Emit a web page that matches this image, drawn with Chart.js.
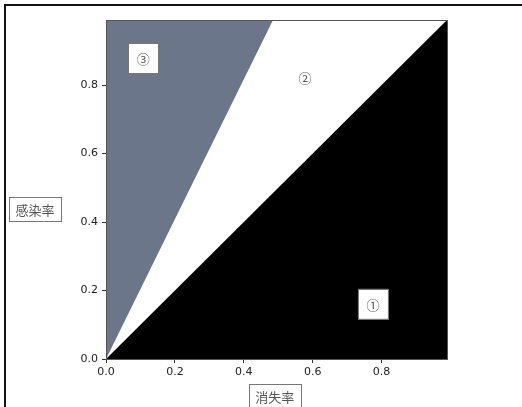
<!DOCTYPE html>
<html>
<head>
<meta charset="utf-8">
<script src="https://cdn.jsdelivr.net/npm/chart.js@4"></script>
<style>
  body { margin: 0; background: #fff; }
  #frame { position: absolute; left: 4px; top: 4px; width: 600px; height: 500px;
           border-top: 2px solid #111; border-left: 2px solid #111; }
  #myChart { position: absolute; left: 0; top: 0; }
</style>
</head>
<body>
<div id="frame"></div>
<canvas id="myChart" width="522" height="407"></canvas>
<script>
// axis ticks
const xTicks = [0, 0.2, 0.4, 0.6, 0.8];
const yTicks = [0, 0.2, 0.4, 0.6, 0.8];
const axisMax = 0.99;

// boundary lines of the regions
const diagX = [0, 0.99];
const diagY = [0, 0.99];
const steepX = [0, 0.485];
const steepY = [0, 0.99];

// region labels
const regionLabels = ['①', '②', '③'];
const regionX = [0.775, 0.578, 0.108];
const regionY = [0.161, 0.823, 0.879];
const regionBoxed = [true, false, true];

const xTitle = '消失率';
const yTitle = '感染率';

const toPoints = (xs, ys) => xs.map((x, i) => ({ x: x, y: ys[i] }));

// box with text, used for titles and region labels
const boxText = (ctx, text, cx, cy, w, h, boxed) => {
  if (boxed) {
    ctx.fillStyle = '#fff';
    ctx.fillRect(cx - w / 2, cy - h / 2, w, h);
    ctx.strokeStyle = '#777';
    ctx.lineWidth = 1;
    ctx.strokeRect(Math.round(cx - w / 2) + 0.5, Math.round(cy - h / 2) + 0.5, w, h);
  }
  ctx.fillStyle = '#555';
  ctx.textAlign = 'center';
  ctx.textBaseline = 'middle';
  ctx.fillText(text, cx, cy + 1);
};

const labelsPlugin = {
  id: 'labels',
  afterDraw(chart) {
    const ctx = chart.ctx;
    const area = chart.chartArea;
    const xs = chart.scales.x, ys = chart.scales.y;
    ctx.save();
    // plot frame
    ctx.strokeStyle = '#555';
    ctx.lineWidth = 1;
    ctx.strokeRect(area.left + 0.5, area.top + 0.5, area.right - area.left, area.bottom - area.top);

    ctx.font = '13px "Noto Sans CJK JP", sans-serif';
    regionLabels.forEach((t, i) => {
      boxText(ctx, t, xs.getPixelForValue(regionX[i]), ys.getPixelForValue(regionY[i]), 30, 30, regionBoxed[i]);
    });

    boxText(ctx, xTitle, xs.getPixelForValue(0.49), area.bottom + 37, 52, 24, true);
    boxText(ctx, yTitle, 35, ys.getPixelForValue(0.437), 52, 24, true);
    ctx.restore();
  }
};

const ctx = document.getElementById('myChart').getContext('2d');

new Chart(ctx, {
  type: 'scatter',
  data: {
    datasets: [
      {
        data: toPoints(diagX, diagY),
        showLine: true,
        fill: 'start',
        backgroundColor: '#000',
        borderColor: '#000',
        borderWidth: 0,
        pointRadius: 0,
      },
      {
        data: toPoints(steepX, steepY),
        showLine: true,
        fill: 'end',
        backgroundColor: '#6c768a',
        borderColor: '#6c768a',
        borderWidth: 0,
        pointRadius: 0,
      },
    ],
  },
  options: {
    responsive: false,
    animation: false,
    devicePixelRatio: 1,
    layout: { padding: { left: 0, top: 20, right: 75, bottom: 0 } },
    plugins: {
      legend: { display: false },
      tooltip: { enabled: false },
    },
    scales: {
      x: {
        type: 'linear',
        min: 0,
        max: axisMax,
        afterBuildTicks: (s) => { s.ticks = xTicks.map(v => ({ value: v })); },
        afterFit: (s) => { s.height = 48; },
        grid: { drawOnChartArea: false, drawTicks: true, tickLength: 4, tickColor: '#333' },
        border: { color: '#555' },
        ticks: {
          padding: 3,
          color: '#222',
          font: { family: 'DejaVu Sans', size: 11 },
          callback: (v) => v.toFixed(1),
        },
      },
      y: {
        type: 'linear',
        min: 0,
        max: axisMax,
        afterBuildTicks: (s) => { s.ticks = yTicks.map(v => ({ value: v })); },
        afterFit: (s) => { s.width = 106; },
        grid: { drawOnChartArea: false, drawTicks: true, tickLength: 4, tickColor: '#333' },
        border: { color: '#555' },
        ticks: {
          padding: 4,
          color: '#222',
          font: { family: 'DejaVu Sans', size: 11 },
          callback: (v) => v.toFixed(1),
        },
      },
    },
  },
  plugins: [labelsPlugin],
});
</script>
</body>
</html>
